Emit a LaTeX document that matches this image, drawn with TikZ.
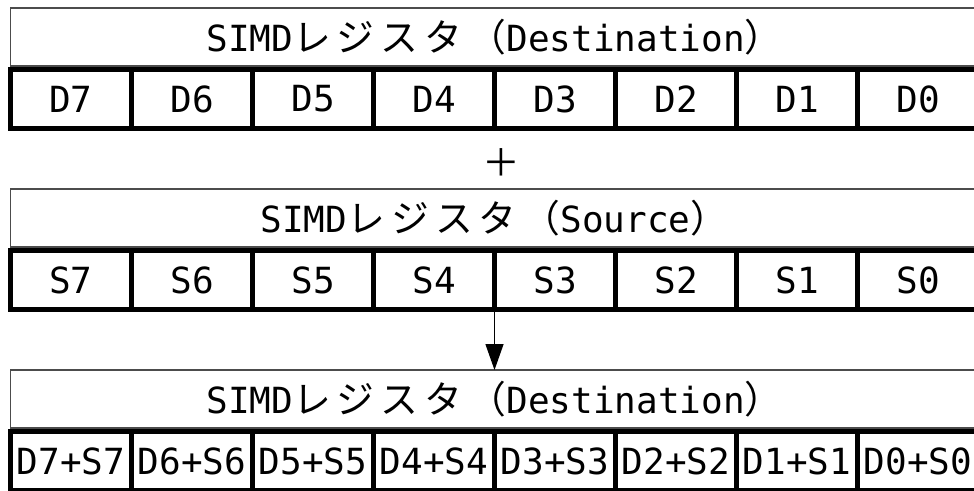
\documentclass[tikz,border=0pt]{standalone}
\usepackage{fontspec}
\setmainfont{DejaVu Sans Mono}
\newfontfamily\jp{Noto Sans CJK JP}[Scale=1.05,LetterSpace=16]
\usetikzlibrary{arrows.meta,positioning}
\tikzset{
  kopf/.style={draw=black!70, line width=1.3pt, minimum width=968pt, minimum height=58pt,
    inner sep=0pt, outer sep=0pt, anchor=north west},
  zelle/.style={draw=black, line width=5pt, minimum width=121pt, minimum height=59pt,
    inner sep=0pt, outer sep=0pt, anchor=north west},
}
\newcommand{\regname}[1]{SIMD{\jp レジスタ（}#1{\jp ）}}

\begin{document}
\begin{tikzpicture}[x=1pt,y=-1pt,font=\fontsize{36}{40}\selectfont]
%Alles in Pixeln des Bildes, y zeigt nach unten
  \pgfmathsetmacro{\xl}{10.5}
  \pgfmathsetmacro{\b}{121}
  \pgfmathsetmacro{\yD}{8}
  \pgfmathsetmacro{\yS}{189}
  \pgfmathsetmacro{\yR}{370}
  \clip (0,0) rectangle (974,490);
  \useasboundingbox (0,0) rectangle (974,490);
%Ziel- und Quellregister
  \node[kopf] (kopfD) at (\xl,\yD) {\regname{Destination}};
  \node[kopf] (kopfS) at (\xl,\yS) {\regname{Source}};
  \node[kopf] (kopfR) at (\xl,\yR) {\regname{Destination}};
\foreach \i [count=\k from 0] in {7,6,...,0}{
  \node[zelle] (d\i) at ({\xl+\k*\b},\yD+61.5) {D\i};
  \node[zelle] (s\i) at ({\xl+\k*\b},\yS+61.5) {S\i};
  \node[zelle] (r\i) at ({\xl+\k*\b},\yR+61.5) {D\i+S\i};
}
  \node (plus) at (501,163) {\jp ＋};
  \draw[line width=1.3pt,-{Triangle[length=26pt,width=18pt]}] (s4.south east) -- (s4.south east |- kopfR.north);
\end{tikzpicture}
\end{document}
